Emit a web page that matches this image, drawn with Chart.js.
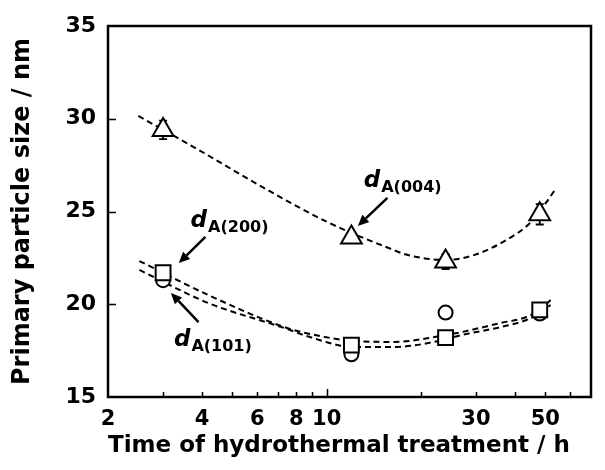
<!DOCTYPE html>
<html>
<head>
<meta charset="utf-8">
<script src="https://cdn.jsdelivr.net/npm/chart.js@4.4.1/dist/chart.umd.min.js"></script>
<style>
html,body{margin:0;padding:0;background:#fff;overflow:hidden;}
#c{display:block;}
</style>
</head>
<body>
<canvas id="c" width="605" height="470"></canvas>
<script>
// ---- data ----
const times = [3, 12, 24, 48];
const d004 = [29.4, 23.6, 22.3, 24.85];
const err004 = [0.5, 0.2, 0.4, 0.55];
const d200 = [21.7, 17.8, 18.2, 19.7];
const d101 = [21.3, 17.3, 19.55, 19.5];

// dashed fit curves
const fitTimes004 = [2.5, 3.9, 6.3, 10.2, 15.8, 18.2, 24.1, 29.6, 37.5, 44.7, 50.2, 53.9];
const fit004 = [30.15, 28.32, 26.27, 24.38, 23.03, 22.65, 22.39, 22.65, 23.46, 24.38, 25.46, 26.21];
const fitTimesLow = [2.52, 4.18, 7.32, 8.84, 12.2, 16.5, 22.1, 27.0, 36.0, 43.5, 48.0, 52.0];
const fit200 = [22.33, 20.50, 18.77, 18.40, 18.02, 17.97, 18.23, 18.50, 18.99, 19.31, 19.70, 20.23];
const fit101 = [21.85, 20.07, 18.72, 18.23, 17.70, 17.70, 17.97, 18.34, 18.77, 19.15, 19.53, 19.96];

// axis ticks
const xTickValues = [2, 3, 4, 5, 6, 7, 8, 9, 10, 20, 30, 40, 50, 60, 70];
const xTickLabels = [2, 4, 6, 8, 10, 30, 50];
const yTickValues = [15, 20, 25, 30, 35];

const FONT = '"DejaVu Sans", "Liberation Sans", Arial, sans-serif';
const AREA = {left: 108, top: 26, right: 599, bottom: 397};

const pts = (xs, ys) => xs.map((x, i) => ({x: x, y: ys[i]}));

// text annotations (d_A(hkl) labels with arrows), in data units
const notes = [
  {sub: 'A(004)', x: 13.14, y: 26.32, tx: 15.64, ty: 25.73, hx: 12.58, hy: 24.22},
  {sub: 'A(200)', x: 3.674, y: 24.16, tx: 4.096, ty: 23.63, hx: 3.367, hy: 22.22},
  {sub: 'A(101)', x: 3.249, y: 17.75, tx: 3.894, ty: 19.04, hx: 3.178, hy: 20.61}
];

const framePlugin = {
  id: 'frame',
  beforeDatasetsDraw(chart) {
    const ctx = chart.ctx, xs = chart.scales.x, ys = chart.scales.y;
    // error bars (drawn under markers)
    ctx.save();
    ctx.strokeStyle = '#000';
    ctx.lineWidth = 1.8;
    times.forEach((t, i) => {
      const px = xs.getPixelForValue(t);
      const top = ys.getPixelForValue(d004[i] + err004[i]);
      const bot = ys.getPixelForValue(d004[i] - err004[i]);
      ctx.beginPath();
      ctx.moveTo(px, top); ctx.lineTo(px, bot);
      ctx.moveTo(px - 4, top); ctx.lineTo(px + 4, top);
      ctx.moveTo(px - 4, bot); ctx.lineTo(px + 4, bot);
      ctx.stroke();
    });
    ctx.restore();
  },
  afterDraw(chart) {
    const ctx = chart.ctx, a = chart.chartArea, xs = chart.scales.x, ys = chart.scales.y;
    ctx.save();
    ctx.strokeStyle = '#000';
    // inward ticks
    ctx.lineWidth = 1.5;
    ctx.beginPath();
    xTickValues.forEach(v => {
      if (v <= 2 || v >= 70) return;
      const px = Math.round(xs.getPixelForValue(v)) + 0.5;
      const len = (v === 10) ? 8 : 5;
      ctx.moveTo(px, a.bottom); ctx.lineTo(px, a.bottom - len);
    });
    yTickValues.forEach(v => {
      if (v <= 15 || v >= 35) return;
      const py = Math.round(ys.getPixelForValue(v)) + 0.5;
      ctx.moveTo(a.left, py); ctx.lineTo(a.left + 8, py);
    });
    ctx.stroke();
    // frame
    ctx.lineWidth = 2.5;
    ctx.strokeRect(a.left, a.top, a.right - a.left, a.bottom - a.top);
    // annotations
    ctx.fillStyle = '#000';
    ctx.textBaseline = 'alphabetic';
    notes.forEach(n => {
      const x = xs.getPixelForValue(n.x), y = ys.getPixelForValue(n.y);
      ctx.font = 'italic bold 23px ' + FONT;
      ctx.textAlign = 'left';
      ctx.fillText('d', x, y);
      const w = ctx.measureText('d').width;
      ctx.font = 'bold 16px ' + FONT;
      ctx.fillText(n.sub, x + w + 1, y + 5);
      // arrow
      const tx = xs.getPixelForValue(n.tx), ty = ys.getPixelForValue(n.ty);
      const hx = xs.getPixelForValue(n.hx), hy = ys.getPixelForValue(n.hy);
      const ang = Math.atan2(hy - ty, hx - tx);
      const L = 11, W = 5;
      const bx = hx - L * Math.cos(ang), by = hy - L * Math.sin(ang);
      ctx.lineWidth = 2.5;
      ctx.beginPath(); ctx.moveTo(tx, ty); ctx.lineTo(bx, by); ctx.stroke();
      ctx.beginPath();
      ctx.moveTo(hx, hy);
      ctx.lineTo(bx + W * Math.sin(ang), by - W * Math.cos(ang));
      ctx.lineTo(bx - W * Math.sin(ang), by + W * Math.cos(ang));
      ctx.closePath(); ctx.fill();
    });
    ctx.restore();
  }
};

const markerBase = {
  showLine: false,
  backgroundColor: '#fff',
  borderColor: '#000',
  pointBorderWidth: 2,
  pointBackgroundColor: '#fff',
  pointBorderColor: '#000'
};
const fitBase = {
  showLine: true,
  pointRadius: 0,
  borderColor: '#000',
  borderWidth: 2,
  borderDash: [6, 4],
  cubicInterpolationMode: 'monotone',
  fill: false
};

function zeroPad(s) { s.paddingLeft = 0; s.paddingRight = 0; s.paddingTop = 0; s.paddingBottom = 0; }

const layoutPadding = {top: 26, right: 6, left: 0, bottom: 0};

const chart = new Chart(document.getElementById('c'), {
  type: 'scatter',
  data: {
    datasets: [
      Object.assign({label: 'dA(004)', data: pts(times, d004), pointStyle: 'triangle', pointRadius: 12}, markerBase),
      Object.assign({label: 'dA(200)', data: pts(times, d200), pointStyle: 'rect', pointRadius: 10.5}, markerBase),
      Object.assign({label: 'dA(101)', data: pts(times, d101), pointStyle: 'circle', pointRadius: 7}, markerBase),
      Object.assign({label: 'fit 004', data: pts(fitTimes004, fit004)}, fitBase),
      Object.assign({label: 'fit 200', data: pts(fitTimesLow, fit200)}, fitBase),
      Object.assign({label: 'fit 101', data: pts(fitTimesLow, fit101)}, fitBase)
    ]
  },
  options: {
    responsive: false,
    animation: false,
    devicePixelRatio: 1,
    layout: {padding: layoutPadding},
    plugins: {legend: {display: false}, tooltip: {enabled: false}},
    scales: {
      x: {
        type: 'logarithmic',
        min: 2, max: 70,
        afterBuildTicks: s => { s.ticks = xTickValues.map(v => ({value: v})); },
        afterFit: s => { s.height = 73; zeroPad(s); },
        grid: {drawOnChartArea: false, drawTicks: false},
        border: {display: false},
        ticks: {
          autoSkip: false, maxRotation: 0, padding: 10,
          color: '#000',
          font: {family: FONT, weight: 'bold', size: 21},
          callback: v => xTickLabels.includes(v) ? String(v) : ''
        },
        title: {
          display: true, text: 'Time of hydrothermal treatment / h', align: 'start',
          color: '#000', font: {family: FONT, weight: 'bold', size: 23},
          padding: {top: 0, bottom: 10}
        }
      },
      y: {
        min: 15, max: 35,
        afterBuildTicks: s => { s.ticks = yTickValues.map(v => ({value: v})); },
        afterFit: s => { s.width = 108; zeroPad(s); },
        grid: {drawOnChartArea: false, drawTicks: false},
        border: {display: false},
        ticks: {
          padding: 12, color: '#000',
          font: {family: FONT, weight: 'bold', size: 22}
        },
        title: {
          display: true, text: 'Primary particle size / nm',
          color: '#000', font: {family: FONT, weight: 'bold', size: 24},
          padding: {top: 8, bottom: 0}
        }
      }
    }
  },
  plugins: [framePlugin]
});

// correct the layout so the plot frame lands where the reference has it
for (let k = 0; k < 3; k++) {
  const a = chart.chartArea;
  const dl = AREA.left - a.left, dt = AREA.top - a.top, dr = a.right - AREA.right, db = a.bottom - AREA.bottom;
  if (Math.abs(dl) + Math.abs(dt) + Math.abs(dr) + Math.abs(db) < 0.5) break;
  layoutPadding.left += dl;
  layoutPadding.top += dt;
  layoutPadding.right += dr;
  layoutPadding.bottom += db;
  chart.config.options.layout.padding = Object.assign({}, layoutPadding);
  chart.update('none');
}
</script>
</body>
</html>
